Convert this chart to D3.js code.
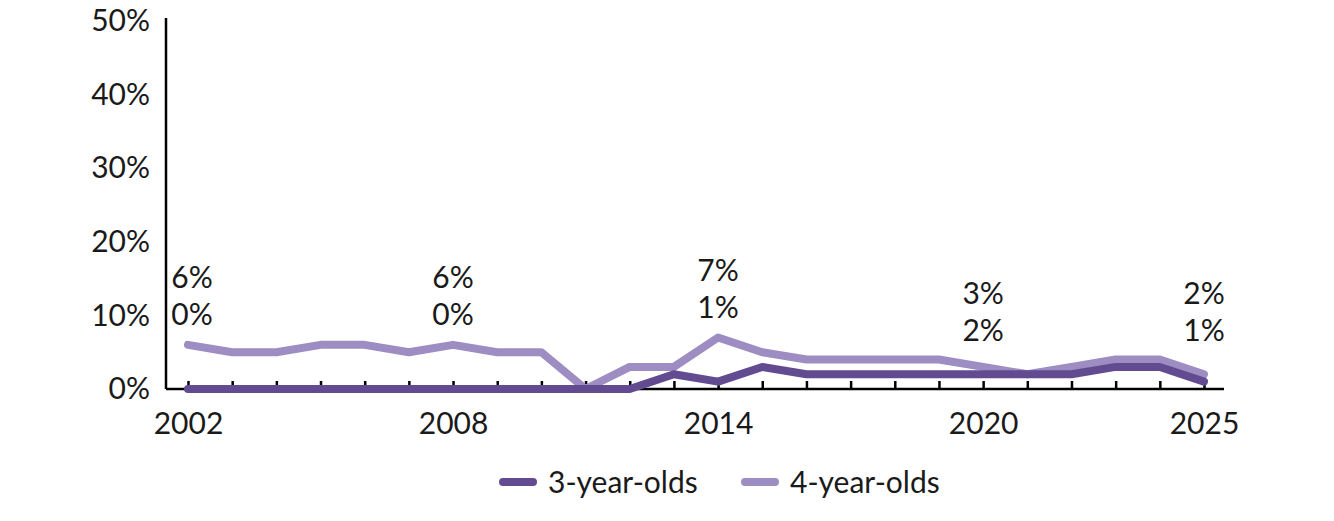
<!DOCTYPE html>
<html><head><meta charset="utf-8">
<script src="https://cdn.jsdelivr.net/npm/d3@7"></script>
<style>body{margin:0;background:#fff;} svg{display:block;font-family:Lato,"Open Sans",sans-serif;}</style>
</head><body>
<svg id="c" width="1334" height="521"></svg>
<script>
const years = d3.range(2002, 2026);
const threeYearOlds = [0,0,0,0,0,0,0,0,0,0,0,2,1,3,2,2,2,2,2,2,2,3,3,1];
const fourYearOlds  = [6,5,5,6,6,5,6,5,5,0,3,3,7,5,4,4,4,4,3,2,3,4,4,2];
const xTickYears = [2002, 2008, 2014, 2020, 2025];
const yTicks = [0,10,20,30,40,50];
const labelYears = [2002, 2008, 2014, 2020, 2025];
const seriesNames = ["3-year-olds", "4-year-olds"];
const colors = ["#634b91", "#9d8dc3"];
const FS = 30;

const svg = d3.select("#c");
const x = d3.scaleLinear().domain([2002, 2025]).range([188, 1204]);
const y = d3.scaleLinear().domain([0, 50]).range([389, 21]);

// y axis
const ya = svg.append("g").attr("transform","translate(166,0)")
  .call(d3.axisLeft(y).tickValues(yTicks).tickFormat(d=>d+"%").tickSize(0).tickPadding(16));
ya.select(".domain").attr("d","M0,18V389").attr("stroke","#000").attr("stroke-width",2.5);
ya.selectAll("text").attr("font-size",FS).attr("fill","#1a1a1a").attr("font-family","Lato, sans-serif");

// x axis
const xa = svg.append("g").attr("transform","translate(0,389)")
  .call(d3.axisBottom(x).tickValues(years).tickSize(-8).tickFormat(d=>xTickYears.includes(d)?d:"").tickPadding(24));
xa.select(".domain").attr("d","M166,0H1224").attr("stroke","#000").attr("stroke-width",2.5);
xa.selectAll(".tick line").attr("stroke","#000").attr("stroke-width",2.5);
xa.selectAll("text").attr("font-size",FS).attr("fill","#1a1a1a").attr("font-family","Lato, sans-serif");

// lines
const line = d3.line().x((d,i)=>x(years[i])).y(d=>y(d));
[fourYearOlds, threeYearOlds].forEach((s,k)=>{
  const idx = k===0?1:0;
  svg.append("path").datum(s).attr("d",line).attr("fill","none")
    .attr("stroke",colors[idx]).attr("stroke-width",8)
    .attr("stroke-linecap","round").attr("stroke-linejoin","round");
});

// data labels
labelYears.forEach(yr=>{
  const i = years.indexOf(yr);
  const by = Math.min(y(fourYearOlds[i]) - 30, 330);
  const g = svg.append("g").attr("font-size",FS).attr("fill","#1a1a1a").attr("text-anchor","middle");
  const cx = x(yr) + (yr===2002?4:0);
  g.append("text").attr("x",cx).attr("y",by-37).attr("dy","0.35em").text(fourYearOlds[i]+"%");
  g.append("text").attr("x",cx).attr("y",by).attr("dy","0.35em").text(threeYearOlds[i]+"%");
});

// legend
const leg = svg.append("g");
const legX = [500, 742];
seriesNames.forEach((n,i)=>{
  leg.append("line").attr("x1",legX[i]+3).attr("x2",legX[i]+33).attr("y1",482).attr("y2",482)
    .attr("stroke",colors[i]).attr("stroke-width",8).attr("stroke-linecap","round");
  leg.append("text").attr("x",legX[i]+48).attr("y",482).attr("dy","0.35em")
    .attr("font-size",FS).attr("fill","#1a1a1a").text(n);
});
</script>
</body></html>
